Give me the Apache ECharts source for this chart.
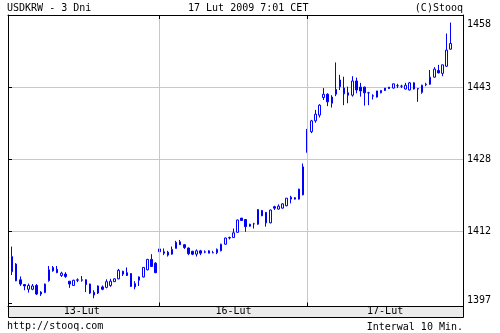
<!DOCTYPE html>
<html><head><meta charset="utf-8">
<script src="https://cdn.jsdelivr.net/npm/echarts@6/dist/echarts.min.js"></script>
<style>html,body{margin:0;padding:0;background:#fff}#c{width:500px;height:333px}</style>
</head><body><div id="c"></div>
<script>
const dayLabels = ['13-Lut', '16-Lut', '17-Lut'];
const slotTimes = ['01:00','01:10','01:20','01:30','01:40','01:50','02:00','02:10','02:20','02:30','02:40','02:50',
  '03:00','03:10','03:20','03:30','03:40','03:50','04:00','04:10','04:20','04:30','04:40','04:50',
  '05:00','05:10','05:20','05:30','05:40','05:50','06:00','06:10','06:20','06:30','06:40','06:50'];
// [open, close, low, high]
const day1 = [
  [1403.9,1407.1,1403.2,1409.2],[1405.5,1402.0,1401.9,1405.7],[1402.2,1401.3,1400.9,1402.9],[1401.2,1400.9,1400.0,1401.3],
  [1400.2,1401.0,1399.5,1401.4],[1400.2,1400.9,1400.0,1401.3],[1401.0,1399.2,1399.0,1401.3],[1399.6,1399.2,1398.8,1399.8],
  [1399.5,1401.3,1399.4,1401.4],[1402.0,1404.3,1401.8,1405.1],[1404.8,1404.1,1403.9,1405.1],[1404.4,1403.7,1403.6,1405.1],
  [1403.1,1403.6,1402.8,1403.9],[1403.4,1402.9,1402.6,1403.8],[1401.9,1401.3,1400.5,1401.9],[1401.0,1402.1,1400.9,1402.2],
  [1402.1,1402.2,1401.7,1402.5],[1402.1,1402.2,1401.8,1403.0],[1402.2,1401.2,1399.6,1402.3],[1401.3,1399.4,1399.2,1401.4],
  [1399.0,1399.6,1398.3,1400.0],[1399.4,1400.9,1399.2,1401.0],[1400.7,1400.2,1400.0,1401.0],[1400.6,1401.8,1400.4,1402.3],
  [1401.0,1401.9,1400.7,1402.4],[1401.8,1402.4,1401.8,1402.5],[1402.4,1404.2,1402.3,1404.5],[1404.0,1403.4,1403.0,1404.1],
  [1403.7,1403.1,1403.0,1404.8],[1403.5,1400.8,1400.7,1403.6],[1400.7,1401.4,1400.2,1401.9],[1402.1,1402.8,1400.9,1402.9],
  [1402.8,1404.8,1402.7,1404.9],[1404.3,1406.5,1404.2,1406.6],[1406.5,1405.0,1404.9,1407.6],[1405.7,1403.7,1403.6,1405.9]
];
const day2 = [
  [1408.1,1408.7,1406.6,1409.4],[1408.1,1407.8,1407.4,1408.8],[1408.0,1407.4,1407.1,1408.3],[1407.6,1408.6,1407.5,1409.2],
  [1408.8,1410.1,1408.8,1410.4],[1410.2,1409.6,1409.6,1410.6],[1409.6,1409.0,1408.7,1409.7],[1408.9,1407.7,1407.4,1409.0],
  [1408.2,1407.6,1407.4,1408.3],[1407.6,1408.3,1407.1,1408.6],[1408.3,1407.8,1407.4,1408.5],[1408.0,1408.1,1407.8,1408.4],
  [1408.3,1407.8,1407.8,1408.4],[1407.9,1407.9,1407.8,1408.3],[1407.9,1408.6,1407.6,1408.8],[1408.3,1409.7,1408.2,1409.8],
  [1409.7,1411.0,1409.6,1411.1],[1411.0,1411.1,1410.7,1411.3],[1411.1,1412.1,1411.1,1413.0],[1412.2,1414.8,1412.2,1414.9],
  [1415.2,1414.7,1414.6,1415.2],[1414.9,1413.4,1412.3,1415.0],[1413.9,1413.5,1413.4,1414.0],[1414.0,1414.0,1413.0,1414.2],
  [1413.9,1417.0,1413.8,1417.1],[1416.8,1415.7,1415.6,1416.9],[1416.4,1414.2,1413.4,1416.5],[1414.2,1416.9,1414.1,1417.0],
  [1417.6,1417.3,1416.9,1417.8],[1417.1,1417.7,1417.0,1418.1],[1417.3,1418.2,1417.2,1418.3],[1417.8,1419.4,1417.7,1419.4],
  [1419.6,1419.2,1418.3,1419.9],[1419.5,1419.2,1419.1,1419.6],[1419.2,1421.3,1419.1,1421.4],[1420.1,1426.0,1420.0,1426.7]
];
const day3 = [
  [1429.1,1433.6,1429.0,1434.0],[1433.4,1435.7,1433.1,1435.9],[1435.7,1437.1,1435.3,1438.0],[1436.9,1439.0,1436.4,1439.2],
  [1440.6,1441.3,1440.1,1442.6],[1441.3,1439.7,1438.8,1441.5],[1439.4,1440.7,1438.5,1441.1],[1441.3,1442.3,1440.9,1448.0],
  [1444.3,1442.9,1442.2,1445.4],[1442.6,1441.4,1439.0,1445.0],[1441.6,1441.1,1439.4,1442.9],[1441.1,1444.1,1440.8,1445.1],
  [1444.1,1442.2,1441.5,1444.8],[1442.8,1442.0,1440.8,1443.7],[1442.8,1441.6,1438.9,1442.9],[1441.6,1441.6,1439.0,1441.8],
  [1440.9,1441.0,1440.2,1441.3],[1440.7,1442.0,1440.6,1442.0],[1441.6,1442.1,1441.5,1442.1],[1442.6,1442.1,1442.0,1442.6],
  [1442.8,1442.5,1442.4,1442.8],[1442.6,1443.5,1442.5,1443.5],[1443.1,1443.1,1442.6,1443.5],[1443.0,1443.0,1442.6,1443.3],
  [1442.4,1443.2,1442.3,1443.7],[1442.2,1443.7,1442.1,1443.9],[1443.7,1442.4,1442.3,1443.8],[1442.5,1442.4,1439.7,1442.5],
  [1441.7,1443.2,1441.4,1443.3],[1443.3,1443.4,1443.0,1443.7],[1443.4,1444.9,1443.3,1446.4],[1444.9,1446.6,1444.8,1447.0],
  [1446.3,1445.8,1445.7,1447.5],[1445.7,1447.5,1445.1,1447.5],[1447.2,1450.6,1447.1,1454.1],[1450.8,1452.0,1450.7,1456.4]
];
const yTickLabels = ['1397', '1412', '1428', '1443', '1458'];
const yMin = 1396.57, yMax = 1458.0;

const days = [day1, day2, day3];
const EMPTY = ['-', '-', '-', '-'];
const categories = [''];
const candles = [EMPTY];
const dayStart = [];
days.forEach((d, di) => {
  dayStart.push(categories.length);
  d.forEach((c, si) => { categories.push(dayLabels[di] + ' ' + slotTimes[si]); candles.push(c); });
});
for (let k = 0; k < 3; k++) { categories.push(''); candles.push(EMPTY); }
const bounds = [0, dayStart[1], dayStart[2], categories.length - 1];
const labelIdx = [0, 1, 2].map(d => Math.floor((bounds[d] + bounds[d + 1]) / 2));
const gridIdx = [dayStart[1], dayStart[2]];

const FONT = 'DejaVu Sans Mono';
const txt = { color: '#000', fontSize: 10, fontFamily: FONT, fontWeight: 'normal' };
const grey = '#c8c8c8';

const chart = echarts.init(document.getElementById('c'), null, { renderer: 'canvas' });
chart.setOption({
  animation: false,
  backgroundColor: '#ffffff',
  textStyle: { fontFamily: FONT },
  title: [
    { text: 'USDKRW - 3 Dni', left: 7, top: 3, padding: 0, textStyle: txt },
    { text: '17 Lut 2009 7:01 CET', left: 188, top: 3, padding: 0, textStyle: txt },
    { text: '(C)Stooq', right: 37, top: 3, padding: 0, textStyle: txt },
    { text: 'http://stooq.com', left: 7, top: 321, padding: 0, textStyle: txt },
    { text: 'Interwal 10 Min.', right: 37, top: 322, padding: 0, textStyle: txt }
  ],
  graphic: [
    { type: 'rect', z: -1, shape: { x: 8.5, y: 306.5, width: 455, height: 11 },
      style: { fill: '#ebebeb', stroke: '#000', lineWidth: 1 } }
  ],
  grid: [
    { left: 8, right: 37, top: 15, bottom: 26.5 },
    { left: 8, right: 37, top: 15, bottom: 29.4 }
  ],
  xAxis: [
    { gridIndex: 0, type: 'category', data: categories, boundaryGap: false, position: 'bottom', z: 5,
      axisLine: { show: true, lineStyle: { color: '#000', width: 1 } },
      axisTick: { show: true, inside: true, length: 4, interval: i => gridIdx.includes(i), lineStyle: { color: '#000' } },
      axisLabel: { show: true, interval: i => labelIdx.includes(i), formatter: v => v.split(' ')[0], margin: 0, ...txt },
      splitLine: { show: true, interval: i => gridIdx.includes(i), lineStyle: { color: grey, width: 1 } } },
    { gridIndex: 0, type: 'category', data: categories, boundaryGap: false, position: 'top', z: 5,
      axisLine: { show: true, lineStyle: { color: '#000', width: 1 } },
      axisTick: { show: true, inside: true, length: 4, interval: i => gridIdx.includes(i), lineStyle: { color: '#000' } },
      axisLabel: { show: false }, splitLine: { show: false } },
    { gridIndex: 1, type: 'value', show: false }
  ],
  yAxis: [
    { gridIndex: 0, type: 'value', min: yMin, max: yMax, position: 'left', z: 5,
      axisLine: { show: true, lineStyle: { color: '#000', width: 1 } },
      axisTick: { show: false }, axisLabel: { show: false }, splitLine: { show: false } },
    { gridIndex: 0, type: 'value', min: yMin, max: yMax, position: 'right', z: 5,
      axisLine: { show: true, lineStyle: { color: '#000', width: 1 } },
      axisTick: { show: false }, axisLabel: { show: false }, splitLine: { show: false } },
    { gridIndex: 1, type: 'value', min: 0, max: 4, interval: 1, position: 'right',
      axisLine: { show: false },
      axisTick: { show: true, length: 3, lineStyle: { color: '#000' } },
      axisLabel: { show: true, margin: 4, ...txt,
        formatter: v => {
          const i = Math.round(v);
          const s = yTickLabels[i] || '';
          if (i === 0) return '{lo|' + s + '}';
          if (i === yTickLabels.length - 1) return '{hi|' + s + '}';
          return s;
        },
        rich: {
          lo: { ...txt, padding: [0, 0, 7, 0] },
          hi: { ...txt, padding: [4, 0, 0, 0] }
        },
        verticalAlignMinLabel: 'middle', verticalAlignMaxLabel: 'top' },
      splitLine: { show: true, showMinLine: false, showMaxLine: false, lineStyle: { color: grey, width: 1 } } },
    { gridIndex: 1, type: 'value', min: 0, max: 4, interval: 1, position: 'left',
      axisLine: { show: false },
      axisTick: { show: true, inside: true, length: 4, lineStyle: { color: '#000' } },
      axisLabel: { show: false }, splitLine: { show: false } }
  ],
  series: [{
    type: 'candlestick', xAxisIndex: 0, yAxisIndex: 0, data: candles, barWidth: 2,
    itemStyle: { color: '#ffffff', color0: '#0000ff', borderColor: '#0000ff', borderColor0: '#0000ff',
      borderColorDoji: '#0000ff', borderWidth: 1 },
    emphasis: { disabled: true }
  }]
});
</script></body></html>
